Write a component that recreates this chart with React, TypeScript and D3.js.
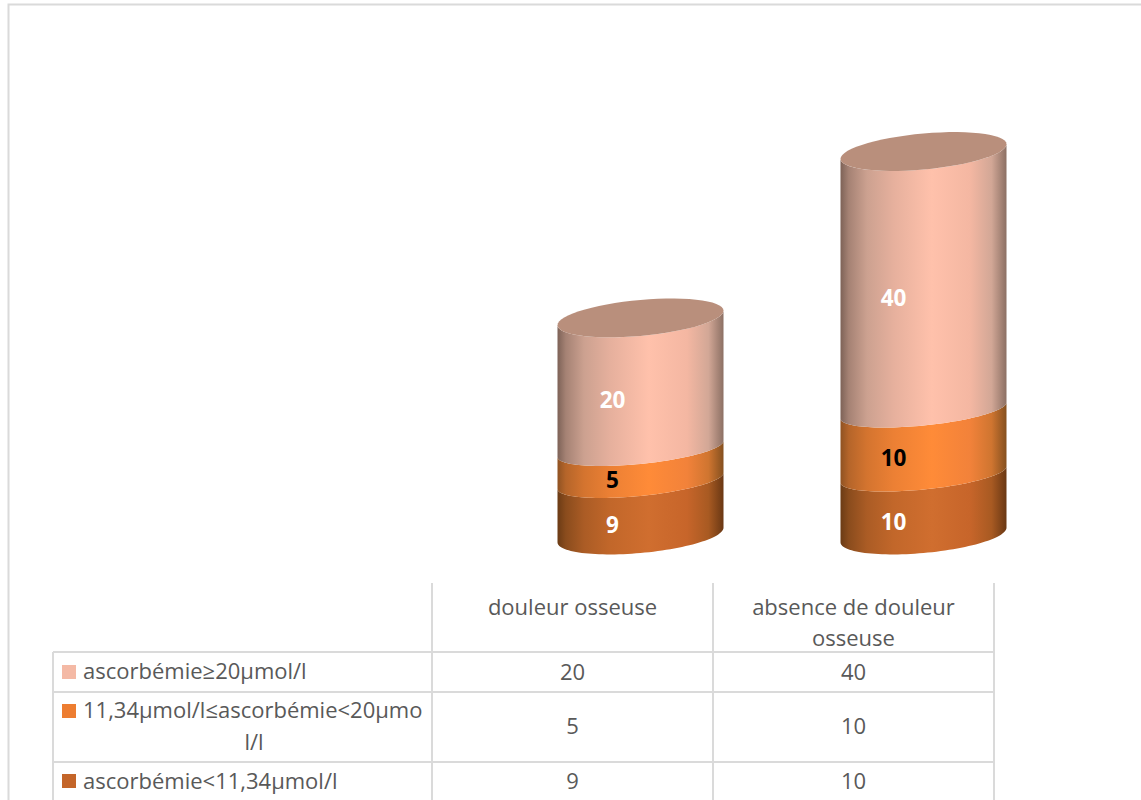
import React from "react";
import * as d3 from "d3";

const categories = ["douleur osseuse", "absence de douleur osseuse"];
const categoryLines = [["douleur osseuse"], ["absence de douleur", "osseuse"]];
const seriesNames = ["ascorbémie<11,34µmol/l", "11,34µmol/l≤ascorbémie<20µmol/l", "ascorbémie≥20µmol/l"];
const low = [9, 10];
const mid = [5, 10];
const high = [20, 40];
const series = [low, mid, high];
const sideStops: [string, number][][] = [
  [["#6b3b15", 0], ["#8a4c1d", 0.05], ["#ab5c25", 0.16], ["#c2672a", 0.32], ["#d06e2f", 0.55], ["#c7652a", 0.78], ["#a85a22", 0.91], ["#6a3814", 1]],
  [["#8f5222", 0], ["#b5652a", 0.05], ["#d4742f", 0.16], ["#ec8034", 0.32], ["#ff8b38", 0.55], ["#f2823a", 0.78], ["#cf7530", 0.91], ["#85501f", 1]],
  [["#7d6257", 0], ["#a58274", 0.05], ["#cca190", 0.16], ["#e6b09d", 0.32], ["#ffc1ab", 0.55], ["#f4b7a2", 0.78], ["#d2a796", 0.91], ["#8c7064", 1]],
];
const lidColor = "#b98f7c";
const swatches = ["#c46529", "#ed7d31", "#f4b9a5"];
const labelColors = ["#fff", "#000", "#fff"];
const labelX = [612.5, 893.5];

const W = 1141, H = 800;
const y = d3.scaleLinear().domain([0, 60]).range([535, 151]);
const x = d3.scalePoint<number>().domain([0, 1]).range([640.5, 923.5]);
const rx = 83;
const columns = [432, 713, 994];
const rows = [652, 692, 762];
const font = "'Open Sans', sans-serif";
const ink = "#595959";
const grid = "#dadada";

// Ellipse rim of the tilted cylinder: the base and lid are rounder than the inner boundaries.
function rim(cx: number, value: number, total: number) {
  const outer = value === 0 || value === total;
  return {
    cx,
    cy: y(value) + (value === 0 ? 0 : outer ? 0.5 : 3.5),
    ry: outer ? 18 : 15,
    skew: outer ? 0.088 : 0.098,
  };
}

function arc(r: ReturnType<typeof rim>, a0: number, a1: number) {
  return d3.range(0, 61).map((i) => {
    const a = a0 + ((a1 - a0) * i) / 60;
    const dx = rx * Math.cos(a);
    return [r.cx + dx, r.cy - r.skew * dx + r.ry * Math.sin(a)] as [number, number];
  });
}

export default function App() {
  const line = d3.line();
  const stacks = categories.map((_, c) => {
    let sum = 0;
    return series.map((s) => {
      const from = sum;
      sum += s[c];
      return [from, sum];
    });
  });
  return (
    <svg width={W} height={H} style={{ position: "absolute", left: 0, top: 0, background: "#fff" }} fontFamily={font}>
      <defs>
        {sideStops.map((stops, i) => (
          <linearGradient key={i} id={`side${i}`} x1="0" x2="1" y1="0" y2="0">
            {stops.map(([c, o]) => <stop key={o} offset={o} stopColor={c} />)}
          </linearGradient>
        ))}
      </defs>
      <path d="M8.5 800V4.5H1141" fill="none" stroke={grid} strokeWidth={2} />
      {categories.map((_, c) => {
        const cx = x(c)!;
        const total = stacks[c][2][1];
        return (
          <g key={c}>
            {stacks[c].map(([a, b], i) => {
              const lower = arc(rim(cx, a, total), Math.PI, 0);
              const upper = arc(rim(cx, b, total), 0, Math.PI);
              return <path key={i} d={line([...lower, ...upper]) + "Z"} fill={`url(#side${i})`} />;
            })}
            <path d={line(arc(rim(cx, total, total), 0, Math.PI * 2)) + "Z"} fill={lidColor} />
            {stacks[c].map(([a, b], i) => (
              <text key={i} x={labelX[c]} y={y((a + b) / 2) + 27} textAnchor="middle" fontSize={22.5} fontWeight={700} fill={labelColors[i]}>
                {series[i][c]}
              </text>
            ))}
          </g>
        );
      })}
      <g stroke={grid} strokeWidth={2} fill="none">
        {columns.map((cxv) => <line key={cxv} x1={cxv} x2={cxv} y1={583} y2={800} />)}
        {rows.map((r) => <line key={r} x1={53} x2={994} y1={r} y2={r} />)}
        <line x1={53} x2={53} y1={652} y2={800} />
      </g>
      <g fontSize={22} fill={ink} textAnchor="middle">
        {categoryLines.map((ls, c) => ls.map((t, k) => (
          <text key={t} x={(columns[c] + columns[c + 1]) / 2} y={615 + k * 31}>{t}</text>
        )))}
        {[high, mid, low].map((s, r) => categories.map((_, c) => (
          <text key={c} x={(columns[c] + columns[c + 1]) / 2} y={[680, 734, 789][r]}>{s[c]}</text>
        )))}
      </g>
      <g fontSize={22} fill={ink}>
        <rect x={62} y={665} width={14} height={14} fill={swatches[2]} />
        <text x={83} y={679}>{seriesNames[2]}</text>
        <rect x={62} y={704} width={14} height={14} fill={swatches[1]} />
        <text x={83} y={718}>11,34µmol/l≤ascorbémie&lt;20µmo</text>
        <text x={254} y={750} textAnchor="middle">l/l</text>
        <rect x={62} y={774} width={14} height={14} fill={swatches[0]} />
        <text x={83} y={789}>{seriesNames[0]}</text>
      </g>
    </svg>
  );
}
